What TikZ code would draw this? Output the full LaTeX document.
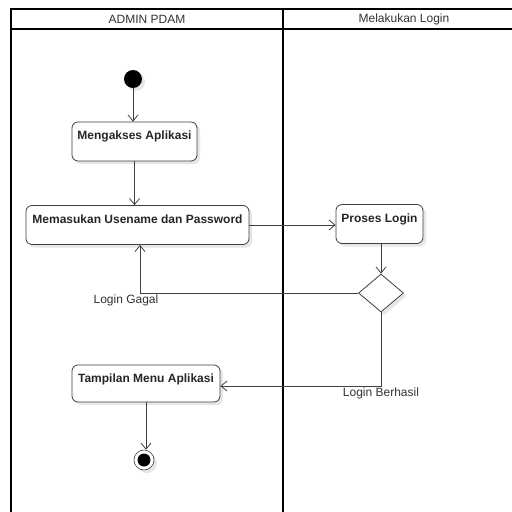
\documentclass[tikz,border=0pt]{standalone}
\usepackage{fontspec}
\setmainfont{Liberation Sans}
\usetikzlibrary{arrows.meta,shapes.geometric,shadows}
\definecolor{linegray}{HTML}{404040}
\definecolor{txtgray}{HTML}{333333}
\definecolor{shadowgray}{HTML}{E6E6E6}
\begin{document}
\begin{tikzpicture}[x=1pt,y=-1pt,
  every node/.style={font=\fontsize{12}{14}\selectfont},
  myshadow/.style={drop shadow={shadow xshift=3pt,shadow yshift=-3pt,fill=shadowgray,opacity=1}},
  actbox/.style={draw=linegray,line width=0.8pt,rounded corners=6pt,fill=white,myshadow,
    font=\fontsize{12}{14}\selectfont\bfseries,text=black!85,
    inner xsep=2pt,inner ysep=3pt,text height=14.5pt,text depth=18.5pt},
  decision/.style={diamond,draw=linegray,line width=0.8pt,fill=white,myshadow,
    minimum width=45pt,minimum height=38pt,inner sep=0pt},
  startstate/.style={circle,fill=black,minimum size=18pt,inner sep=0pt,myshadow},
  endstate/.style={circle,draw=linegray,line width=0.6pt,fill=white,minimum size=20pt,inner sep=0pt,myshadow},
  flow/.style={draw=linegray,line width=0.8pt,-{Straight Barb[length=6pt,width=10pt]}},
  lbl/.style={text=txtgray},
  frameline/.style={draw=black,line width=1.6pt}
]
\useasboundingbox (0,0) rectangle (512,512);
\fill[white] (0,0) rectangle (512,512);
% swimlane frame
\draw[frameline] (11,520) -- (11,9) -- (520,9);
\draw[frameline] (11,29) -- (520,29);
\draw[frameline] (283,9) -- (283,520);
\node[lbl] (lane1) at (147,19) {ADMIN PDAM};
\node[lbl] (lane2) at (404,19) {Melakukan Login};
% nodes
\node[startstate] (start) at (133,79) {};
\node[actbox,minimum width=125pt] (mengakses) at (134.5,141.5) {Mengakses Aplikasi};
\node[actbox,minimum width=223pt] (memasukan) at (137.5,225) {Memasukan Usename dan Password};
\node[actbox,minimum width=87pt] (proses) at (379.5,224) {Proses Login};
\node[decision] (dec) at (381,293) {};
\node[actbox,minimum width=148pt,text depth=16.5pt] (tampilan) at (146,383.5) {Tampilan Menu Aplikasi};
\node[endstate] (end) at (144,460) {};
\fill[black] (end.center) circle (6.5pt);
% flows
\draw[flow] (start.south) -- (start.south |- mengakses.north);
\draw[flow] (mengakses.south) -- (mengakses.south |- memasukan.north);
\draw[flow] (memasukan.east) -- (memasukan.east -| proses.west);
\draw[flow] (proses.south -| dec.north) -- (dec.north);
\coordinate (gagal) at ([xshift=2.5pt]memasukan.south);
\draw[flow] (dec.west) -| (gagal);
\node[lbl] (lgagal) at (126,300) {Login Gagal};
\draw[flow] (dec.south) |- ([yshift=-2.5pt]tampilan.east);
\node[lbl] (lberhasil) at (381,393) {Login Berhasil};
\draw[flow] (tampilan.south) -- (tampilan.south |- end.north);
\end{tikzpicture}
\end{document}
